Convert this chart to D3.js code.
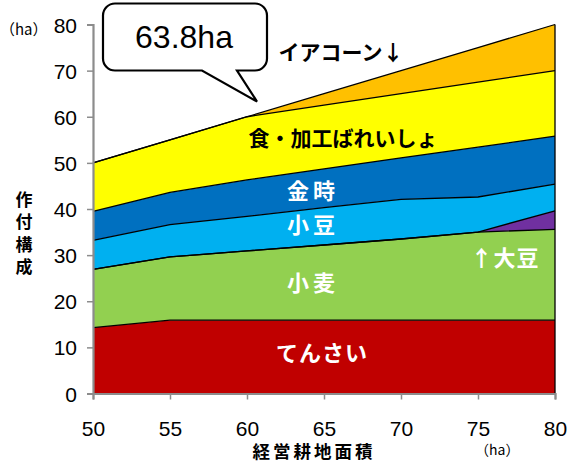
<!DOCTYPE html>
<html><head><meta charset="utf-8">
<script src="https://cdn.jsdelivr.net/npm/d3@7"></script>
<style>
body{margin:0;background:#fff;}
svg{display:block;}
</style></head>
<body>
<script>
const xValues = [50, 55, 60, 65, 70, 75, 80];
const tensai   = [14.3, 15.9, 15.9, 15.9, 15.9, 15.9, 15.9];
const komugi   = [12.6, 13.7, 15.0, 16.3, 17.6, 19.1, 19.7];
const daizu    = [0, 0, 0, 0, 0, 0, 4.0];
const azuki    = [6.3, 7.0, 7.5, 8.1, 8.6, 7.6, 5.8];
const kintoki  = [6.3, 7.0, 7.9, 8.4, 9.0, 10.8, 10.4];
const bareisho = [10.5, 11.4, 13.7, 13.8, 13.9, 14.1, 14.2];
const corn     = [0, 0, 0, 2.5, 5.0, 7.5, 10.0];
const seriesKeys = ["tensai","komugi","daizu","azuki","kintoki","bareisho","corn"];
const seriesColors = ["#C00000","#92D050","#7030A0","#00B0F0","#0070C0","#FFFF00","#FFC000"];
const xTicks = [50,55,60,65,70,75,80];
const yTicks = [0,10,20,30,40,50,60,70,80];

const W = 569, H = 463;
const svg = d3.select("body").append("svg").attr("width", W).attr("height", H);
const x = d3.scaleLinear().domain([50,80]).range([93,555]);
const y = d3.scaleLinear().domain([0,80]).range([393.5,24.5]);

const seriesArr = {tensai,komugi,daizu,azuki,kintoki,bareisho,corn};
const rows = xValues.map((xv,i)=>{const r={x:xv}; seriesKeys.forEach(k=>r[k]=seriesArr[k][i]); return r;});
const stack = d3.stack().keys(seriesKeys)(rows);

const area = d3.area().x(d=>x(d.data.x)).y0(d=>y(d[0])).y1(d=>y(d[1]));
const line = d3.line().x(d=>x(d.data.x)).y(d=>y(d[1]));

svg.append("g").selectAll("path").data(stack).join("path")
  .attr("d", area).attr("fill",(d,i)=>seriesColors[i]).attr("stroke","none");
svg.append("g").selectAll("path").data(stack).join("path")
  .attr("d", line).attr("fill","none").attr("stroke","#000").attr("stroke-width",1.3);
// right edge
svg.append("line").attr("x1",x(80)).attr("x2",x(80)).attr("y1",y(0)).attr("y2",y(80))
  .attr("stroke","#000").attr("stroke-width",1.3);

// axes
const gray = "#8c8c8c";
const yAxis = svg.append("g").attr("transform",`translate(${x(50)},0)`)
  .call(d3.axisLeft(y).tickValues(yTicks).tickSize(6).tickPadding(10).tickFormat(d3.format("d")));
const xAxis = svg.append("g").attr("transform",`translate(0,${y(0)})`)
  .call(d3.axisBottom(x).tickValues(xTicks).tickSize(6).tickPadding(22).tickFormat(d3.format("d")));
[yAxis,xAxis].forEach(a=>{
  a.select(".domain").attr("stroke",gray).attr("stroke-width",2.2);
  a.selectAll(".tick line").attr("stroke",gray).attr("stroke-width",1.5);
  a.selectAll(".tick text").attr("font-family","'Liberation Sans', Arial, sans-serif")
   .attr("font-size",21).attr("fill","#000");
});
yAxis.selectAll(".tick text").attr("dy","0.36em");
xAxis.selectAll(".tick text").attr("dy","0.71em");

const jp = "'Noto Sans CJK JP', sans-serif";
// unit labels
svg.append("text").attr("x",0).attr("y",30).attr("dy","0.35em").attr("font-family",jp).attr("font-size",15).text("（ha）");
svg.append("text").attr("x",475).attr("y",450).attr("dy","0.35em").attr("font-family",jp).attr("font-size",14).text("（ha）");

// axis titles
svg.append("text").attr("x",24).attr("y",191)
  .style("writing-mode","vertical-rl").attr("letter-spacing",5.5)
  .attr("font-family",jp).attr("font-weight","bold").attr("font-size",17).text("作付構成");
svg.append("text").attr("x",314).attr("y",452).attr("dy","0.35em").attr("text-anchor","middle")
  .attr("font-family",jp).attr("font-weight","bold").attr("font-size",17.5).attr("letter-spacing",3)
  .text("経営耕地面積");

// series labels
function lab(t,cx,cy,col,size,ls){
  svg.append("text").attr("x",cx).attr("y",cy).attr("dy","0.36em").attr("text-anchor","middle")
   .attr("font-family",jp).attr("font-weight","bold").attr("font-size",size).attr("fill",col)
   .attr("letter-spacing",ls||0).text(t);
}
lab("てんさい",322,353,"#fff",22,1);
lab("小麦",313,283,"#fff",22,4);
lab("↑大豆",505,258,"#fff",22,1);
lab("小豆",313,225,"#fff",22,4);
lab("金時",313,191,"#fff",22,4);
lab("食・加工ばれいしょ",343,138,"#000",21,0);
lab("イアコーン↓",341,52,"#000",21,0);

// callout
const bx0=103,bx1=267,by0=3.5,by1=70.5,r=12;
const tail=[[202,by1],[257,101.5],[237,by1]];
const p = d3.path();
p.moveTo(bx0+r,by0);
p.lineTo(bx1-r,by0); p.arcTo(bx1,by0,bx1,by0+r,r);
p.lineTo(bx1,by1-r); p.arcTo(bx1,by1,bx1-r,by1,r);
p.lineTo(tail[2][0],by1); p.lineTo(tail[1][0],tail[1][1]); p.lineTo(tail[0][0],by1);
p.lineTo(bx0+r,by1); p.arcTo(bx0,by1,bx0,by1-r,r);
p.lineTo(bx0,by0+r); p.arcTo(bx0,by0,bx0+r,by0,r);
p.closePath();
svg.append("path").attr("d",p.toString()).attr("fill","#fff").attr("stroke","#000").attr("stroke-width",2.2);
svg.append("text").attr("x",184).attr("y",48).attr("text-anchor","middle")
  .attr("font-family","'Liberation Sans', Arial, sans-serif").attr("font-size",32).text("63.8ha");
</script>
</body></html>
